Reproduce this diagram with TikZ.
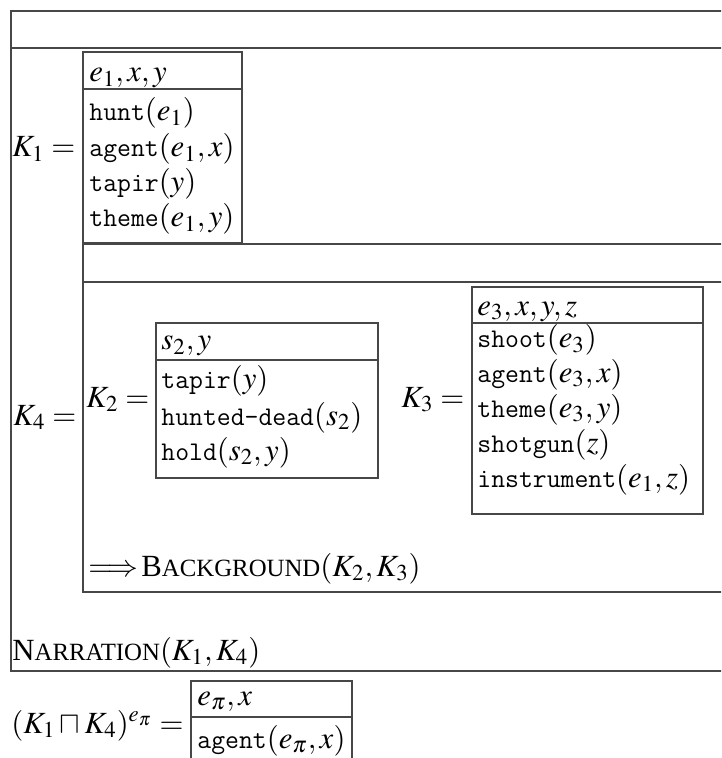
\documentclass[tikz,border=0pt]{standalone}
\usepackage{mathptmx}
\usepackage[no-math]{fontspec}
\setmainfont{Liberation Serif}
\setmonofont{Latin Modern Mono}[Scale=0.875]
% small capitals drawn from scaled Times capitals
\newcommand\fakesc[2]{#1{\fontsize{12.4}{14}\selectfont #2}}
\begin{document}
\begin{tikzpicture}[x=0.5pt,y=-0.5pt,
  drs/.style={line width=0.6pt, draw=black!72},
  lbl/.style={anchor=base west, inner sep=0pt, font=\fontsize{15.4}{18}\selectfont}]
\useasboundingbox (0,0) rectangle (721,758);
\clip (0,0) rectangle (721,758);

% outer DRS (open on the right)
\draw[drs] (730,11) -- (11,11) -- (11,671) -- (730,671);
\draw[drs] (11,48) -- (730,48);

% K1
\draw[drs] (83,52) rectangle (242,243);
\draw[drs] (83,89) -- (242,89);
\node[lbl] (k1eq) at (12,157) {$K_1 =$};
\node[lbl] (k1u) at (89,82) {$e_1,x,y$};
\node[lbl] (k1a) at (89,121) {\texttt{hunt}$(e_1)$};
\node[lbl] (k1b) at (89,157) {\texttt{agent}$(e_1,x)$};
\node[lbl] (k1c) at (89,192) {\texttt{tapir}$(y)$};
\node[lbl] (k1d) at (89,227) {\texttt{theme}$(e_1,y)$};

% K4 (open on the right)
\draw[drs] (730,244) -- (83,244) -- (83,592) -- (730,592);
\draw[drs] (83,282) -- (730,282);
\node[lbl] (k4eq) at (13,425) {$K_4 =$};

% K2
\draw[drs] (156,323) rectangle (378,478);
\draw[drs] (156,360) -- (378,360);
\node[lbl] (k2eq) at (86,407) {$K_2 =$};
\node[lbl] (k2u) at (161,350) {$s_2,y$};
\node[lbl] (k2a) at (161,388) {\texttt{tapir}$(y)$};
\node[lbl] (k2b) at (161,425) {\texttt{hunted-dead}$(s_2)$};
\node[lbl] (k2c) at (161,460) {\texttt{hold}$(s_2,y)$};

% K3
\draw[drs] (472,287) rectangle (703,514);
\draw[drs] (472,323) -- (703,323);
\node[lbl] (k3eq) at (401,407) {$K_3 =$};
\node[lbl] (k3u) at (477,315) {$e_3,x,y,z$};
\node[lbl] (k3a) at (477,348) {\texttt{shoot}$(e_3)$};
\node[lbl] (k3b) at (477,382) {\texttt{agent}$(e_3,x)$};
\node[lbl] (k3c) at (477,417) {\texttt{theme}$(e_3,y)$};
\node[lbl] (k3d) at (477,452) {\texttt{shotgun}$(z)$};
\node[lbl] (k3e) at (477,487) {\texttt{instrument}$(e_1,z)$};

% relations
\node[lbl] (bg) at (88,576) {$\Longrightarrow\mkern2mu$\fakesc{B}{ACKGROUND}$(K_2,K_3)$};
\node[lbl] (narr) at (12,660) {\fakesc{N}{ARRATION}$(K_1,K_4)$};

% merged projection
\draw[drs] (191,770) -- (191,681) -- (352,681) -- (352,770);
\draw[drs] (191,717) -- (352,717);
\node[lbl] (proj) at (11,733) {$(K_1\sqcap K_4)^{e_\pi}$};
\node[lbl, anchor=base east] (projeq) at (184,733) {$=$};
\node[lbl] (pu) at (197,705) {$e_\pi,x$};
\node[lbl] (pa) at (197,748) {\texttt{agent}$(e_\pi,x)$};
\end{tikzpicture}
\end{document}
